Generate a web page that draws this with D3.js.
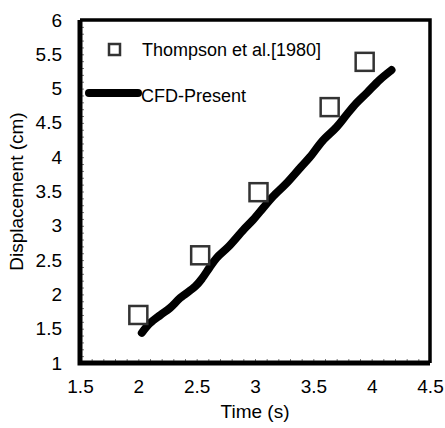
<!DOCTYPE html>
<html>
<head>
<meta charset="utf-8">
<script src="https://cdn.jsdelivr.net/npm/d3@7"></script>
<style>
  body { margin: 0; background: #fff; }
  text { font-family: "Liberation Sans", Arial, sans-serif; }
</style>
</head>
<body>
<div id="plot"></div>
<script>
// experimental points, Thompson et al. [1980]
var expTime = [2.0, 2.53, 3.03, 3.64, 3.94];
var expDisp = [1.70, 2.57, 3.49, 4.73, 5.39];

// CFD-Present curve
var cfdTime = [2.03, 2.10, 2.19, 2.27, 2.36, 2.49, 2.55, 2.61, 2.67, 2.77, 2.90, 2.98,
	3.07, 3.15, 3.27, 3.39, 3.47, 3.58, 3.70, 3.79, 3.87, 3.96, 4.07, 4.17];
var cfdDisp = [1.44, 1.58, 1.70, 1.80, 1.95, 2.12, 2.24, 2.39, 2.53, 2.69, 2.94, 3.08,
	3.26, 3.42, 3.62, 3.85, 4.00, 4.24, 4.44, 4.63, 4.79, 4.94, 5.13, 5.27];

var xTicks = [1.5, 2, 2.5, 3, 3.5, 4, 4.5];
var yTicks = [1, 1.5, 2, 2.5, 3, 3.5, 4, 4.5, 5, 5.5, 6];

var margin = {top: 20, right: 15, bottom: 65, left: 80};
var width = 445 - margin.left - margin.right;
var height = 428 - margin.top - margin.bottom;

var x = d3.scaleLinear().domain([1.5, 4.5]).range([0, width]);
var y = d3.scaleLinear().domain([1, 6]).range([height, 0]);

var svg = d3.select("#plot").append("svg")
	.attr("width", 445)
	.attr("height", 428)
	.append("g")
	.attr("transform", "translate(" + margin.left + "," + margin.top + ")");

// minor ticks inside the frame
var xMinor = d3.range(15, 46).map(function(d) { return d / 10; });
var yMinor = d3.range(10, 61).map(function(d) { return d / 10; });

svg.append("g")
	.attr("transform", "translate(0," + height + ")")
	.call(d3.axisBottom(x).tickValues(xMinor).tickSize(-4).tickFormat(""))
	.call(function(g) { g.select(".domain").remove(); })
	.selectAll("line").attr("stroke", "#777");

svg.append("g")
	.call(d3.axisLeft(y).tickValues(yMinor).tickSize(-4).tickFormat(""))
	.call(function(g) { g.select(".domain").remove(); })
	.selectAll("line").attr("stroke", "#777");

// tick labels
svg.append("g")
	.attr("transform", "translate(0," + height + ")")
	.call(d3.axisBottom(x).tickValues(xTicks).tickSize(0).tickPadding(17).tickFormat(d3.format("")))
	.call(function(g) { g.select(".domain").remove(); })
	.selectAll("text").style("font-size", "19px").attr("fill", "#000");

svg.append("g")
	.call(d3.axisLeft(y).tickValues(yTicks).tickSize(0).tickPadding(18).tickFormat(d3.format("")))
	.call(function(g) { g.select(".domain").remove(); })
	.selectAll("text").style("font-size", "19px").attr("fill", "#000");

// frame: heavy left and bottom, thinner top and right
svg.append("path")
	.attr("d", "M0,0H" + width + "V" + height)
	.attr("fill", "none").attr("stroke", "#000").attr("stroke-width", 3.5);
svg.append("path")
	.attr("d", "M0,0V" + height + "H" + width)
	.attr("fill", "none").attr("stroke", "#000").attr("stroke-width", 5);

// CFD line
var cfd = cfdTime.map(function(t, i) { return [t, cfdDisp[i]]; });
svg.append("path")
	.datum(cfd)
	.attr("d", d3.line().x(function(d) { return x(d[0]); }).y(function(d) { return y(d[1]); }).curve(d3.curveCatmullRom))
	.attr("fill", "none")
	.attr("stroke", "#000")
	.attr("stroke-width", 8)
	.attr("stroke-linecap", "round")
	.attr("stroke-linejoin", "round");

// experimental squares
var sq = 18;
svg.append("g")
	.selectAll("rect")
	.data(expTime)
	.enter().append("rect")
	.attr("x", function(d) { return x(d) - sq / 2; })
	.attr("y", function(d, i) { return y(expDisp[i]) - sq / 2; })
	.attr("width", sq)
	.attr("height", sq)
	.attr("fill", "#fff")
	.attr("stroke", "#333")
	.attr("stroke-width", 2.5);

// legend
var lg = svg.append("g");
lg.append("rect")
	.attr("x", 29).attr("y", 24).attr("width", 11).attr("height", 11)
	.attr("fill", "#fff").attr("stroke", "#333").attr("stroke-width", 2.5);
lg.append("text").attr("x", 62).attr("y", 36).style("font-size", "18px").text("Thompson et al.[1980]");
lg.append("line")
	.attr("x1", 9).attr("x2", 58).attr("y1", 73).attr("y2", 73)
	.attr("stroke", "#000").attr("stroke-width", 8).attr("stroke-linecap", "round");
lg.append("text").attr("x", 61).attr("y", 82).style("font-size", "18px").text("CFD-Present");

// axis titles
svg.append("text")
	.attr("x", width / 2).attr("y", height + 55)
	.attr("text-anchor", "middle").style("font-size", "19px")
	.text("Time (s)");
svg.append("text")
	.attr("transform", "translate(" + (-57) + "," + (height / 2) + ") rotate(-90)")
	.attr("text-anchor", "middle").style("font-size", "19px")
	.text("Displacement (cm)");
</script>
</body>
</html>
